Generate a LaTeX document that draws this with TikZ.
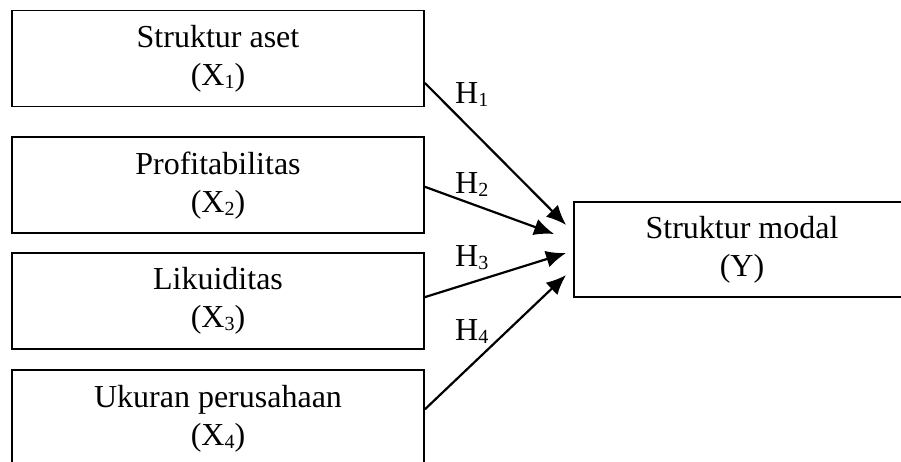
\documentclass[tikz,border=0pt]{standalone}
\usepackage{fontspec}
\setmainfont{Liberation Serif}
\usetikzlibrary{arrows.meta,positioning}
\newcommand{\indeks}[1]{\raisebox{-3pt}{\fontsize{20pt}{20pt}\selectfont #1}}
\tikzstyle{variabel} = [rectangle, minimum width=412pt, minimum height=96pt, inner sep=0pt, text centered, align=center, draw=black, line width=1.8pt, font=\fontsize{32pt}{38pt}\selectfont]
\tikzstyle{arrow} = [line width=2.2pt, -{Latex[length=20pt,width=17pt]}]
\tikzstyle{hipotesis} = [anchor=base west, inner sep=0pt, font=\fontsize{32pt}{38pt}\selectfont]
\begin{document}
\begin{tikzpicture}
\useasboundingbox (0,0) rectangle (901pt,-461pt);

\node (aset) [variabel] at (218pt,-58.5pt) {Struktur aset\\(X\indeks{1})};
\node (profit) [variabel, below=29pt of aset] {Profitabilitas\\(X\indeks{2})};
\node (likuid) [variabel, below=18pt of profit] {Likuiditas\\(X\indeks{3})};
\node (ukuran) [variabel, below=19.4pt of likuid] {Ukuran perusahaan\\(X\indeks{4})};
\node (modal) [variabel, minimum width=336pt, minimum height=95pt] at (742pt,-249.5pt) {Struktur modal\\(Y)};

\draw[arrow] ([yshift=-24.5pt]aset.east) -- ([xshift=-7pt,yshift=24.5pt]modal.west);
\draw[arrow] ([yshift=-1.5pt]profit.east) -- ([xshift=-19pt,yshift=15.5pt]modal.west);
\draw[arrow] ([yshift=4pt]likuid.east) -- ([xshift=-7pt,yshift=-3.5pt]modal.west);
\draw[arrow] ([yshift=9pt]ukuran.east) -- ([xshift=-7pt,yshift=-25.5pt]modal.west);

\node (h1) [hipotesis] at (455pt,-103pt) {H\indeks{1}};
\node (h2) [hipotesis] at (455pt,-193pt) {H\indeks{2}};
\node (h3) [hipotesis] at (455pt,-266pt) {H\indeks{3}};
\node (h4) [hipotesis] at (455pt,-340pt) {H\indeks{4}};
\end{tikzpicture}
\end{document}
